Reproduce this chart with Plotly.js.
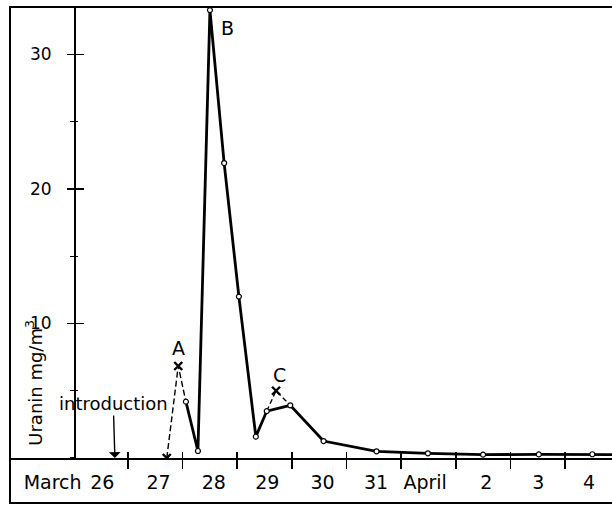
<!DOCTYPE html>
<html>
<head>
<meta charset="utf-8">
<script src="https://cdn.plot.ly/plotly-3.0.1.min.js"></script>
<style>html,body{margin:0;padding:0;background:#fff;}#chart{width:612px;height:505px;}</style>
</head>
<body>
<div id="chart"></div>
<script>
// Days as continuous numbers: 27.0 = start of March 27; April 1 = 32
const solidX = [28.06, 28.28, 28.50, 28.76, 29.03, 29.34, 29.54, 29.97, 30.58, 31.55, 32.49, 33.50, 34.52, 35.50, 36.50];
const solidY = [4.19, 0.52, 33.3, 21.93, 12.0, 1.59, 3.49, 3.92, 1.26, 0.50, 0.35, 0.25, 0.27, 0.28, 0.24];
const dashAX = [27.71, 27.92, 28.06];
const dashAY = [0.0, 6.84, 4.19];
const dashCX = [29.54, 29.71, 29.97];
const dashCY = [3.49, 5.0, 3.92];
const crossX = [27.71, 27.92, 29.71];
const crossY = [0.0, 6.84, 5.0];
const dayTicks = [27, 28, 29, 30, 31, 32, 33, 34, 35, 36];
const labelPos = [25.62, 26.53, 27.56, 28.57, 29.55, 30.56, 31.54, 32.44, 33.56, 34.51, 35.44];
const labelText = ['March', '26', '27', '28', '29', '30', '31', 'April', '2', '3', '4'];
const yTicks = [10, 20, 30];
const introX = 26.76;

const FONT = 'DejaVu Sans, Liberation Sans, sans-serif';
const xRange = [24.84, 35.86];
const yRange = [0, 33.53];
const yDomain = [0.0907, 1];
const yPos = 0.108;

const traces = [
  {x: dashAX, y: dashAY, mode: 'lines', line: {color: '#000', width: 1.4, dash: '6px,3px'}, hoverinfo: 'skip'},
  {x: dashCX, y: dashCY, mode: 'lines', line: {color: '#000', width: 1.4, dash: '5px,3px'}, hoverinfo: 'skip'},
  {x: solidX, y: solidY, mode: 'lines+markers', line: {color: '#000', width: 2.8},
   marker: {symbol: 'circle', size: 5, color: '#fff', line: {color: '#000', width: 1.2}}},
  {x: crossX, y: crossY, mode: 'markers',
   marker: {symbol: 'x-thin', size: 8, color: '#000', line: {color: '#000', width: 2.4}}},
  {x: solidX, y: solidY, xaxis: 'x2', yaxis: 'y2', mode: 'none', hoverinfo: 'skip'},
  {x: solidX, y: solidY, xaxis: 'x3', yaxis: 'y', mode: 'none', hoverinfo: 'skip'}
];

const layout = {
  width: 612, height: 505,
  margin: {l: 10, r: 0, t: 7, b: 2},
  paper_bgcolor: '#fff', plot_bgcolor: '#fff',
  showlegend: false,
  font: {family: FONT, size: 18, color: '#000'},
  xaxis: {range: xRange, anchor: 'y', showgrid: false, zeroline: false,
    showline: true, linecolor: '#000', linewidth: 2,
    tickmode: 'array', tickvals: dayTicks, ticks: 'outside', ticklen: 9, tickwidth: 1.6, tickcolor: '#000',
    showticklabels: false},
  xaxis2: {range: xRange, overlaying: 'x', anchor: 'y', showgrid: false, zeroline: false, showline: false,
    tickmode: 'array', tickvals: dayTicks, ticks: 'inside', ticklen: 6, tickwidth: 1.6, tickcolor: '#000',
    showticklabels: false},
  xaxis3: {range: xRange, overlaying: 'x', anchor: 'y', showgrid: false, zeroline: false, showline: false,
    tickmode: 'array', tickvals: labelPos, ticktext: labelText, ticks: '', ticklabelstandoff: 11,
    tickfont: {family: FONT, size: 19, color: '#000'}},
  yaxis: {range: yRange, domain: yDomain, anchor: 'free', position: yPos, showgrid: false, zeroline: false,
    showline: true, linecolor: '#000', linewidth: 2,
    tickmode: 'array', tickvals: yTicks, ticks: 'outside', ticklen: 7, tickwidth: 1.6, tickcolor: '#000',
    ticklabelstandoff: 12, tickfont: {family: FONT, size: 17, color: '#000'},
    minor: {dtick: 5, tick0: 0, ticks: 'outside', ticklen: 4, tickwidth: 1.2, tickcolor: '#000'}},
  yaxis2: {range: yRange, overlaying: 'y', anchor: 'free', position: yPos, side: 'left', showgrid: false, zeroline: false,
    showline: false, tickmode: 'array', tickvals: yTicks, ticks: 'inside', ticklen: 8, tickwidth: 1.6, tickcolor: '#000',
    showticklabels: false,
    minor: {dtick: 5, tick0: 0, ticks: 'inside', ticklen: 2, tickwidth: 1.2, tickcolor: '#000'}},
  shapes: [
    {type: 'rect', xref: 'paper', yref: 'paper', x0: 0, x1: 1.05, y0: 0, y1: 1,
     line: {color: '#000', width: 2}, layer: 'above'}
  ],
  annotations: [
    {x: 27.93, y: 8.2, xref: 'x', yref: 'y', text: 'A', showarrow: false, font: {size: 19}},
    {x: 28.83, y: 32.0, xref: 'x', yref: 'y', text: 'B', showarrow: false, font: {size: 19}},
    {x: 29.78, y: 6.17, xref: 'x', yref: 'y', text: 'C', showarrow: false, font: {size: 19}},
    {x: introX, y: 0, xref: 'x', yref: 'y', ax: introX - 0.03, ay: 4.05, axref: 'x', ayref: 'y',
     text: 'introduction', showarrow: true, arrowhead: 1, arrowsize: 1.4, arrowwidth: 1.4, arrowcolor: '#000',
     standoff: 0, startstandoff: 0, font: {size: 18}},
    {x: 25.28, y: 5.6, xref: 'x', yref: 'y', text: 'Uranin mg/m<sup>3</sup>', textangle: -90,
     showarrow: false, font: {size: 18}}
  ]
};

Plotly.newPlot('chart', traces, layout, {staticPlot: true, displayModeBar: false});
</script>
</body>
</html>
